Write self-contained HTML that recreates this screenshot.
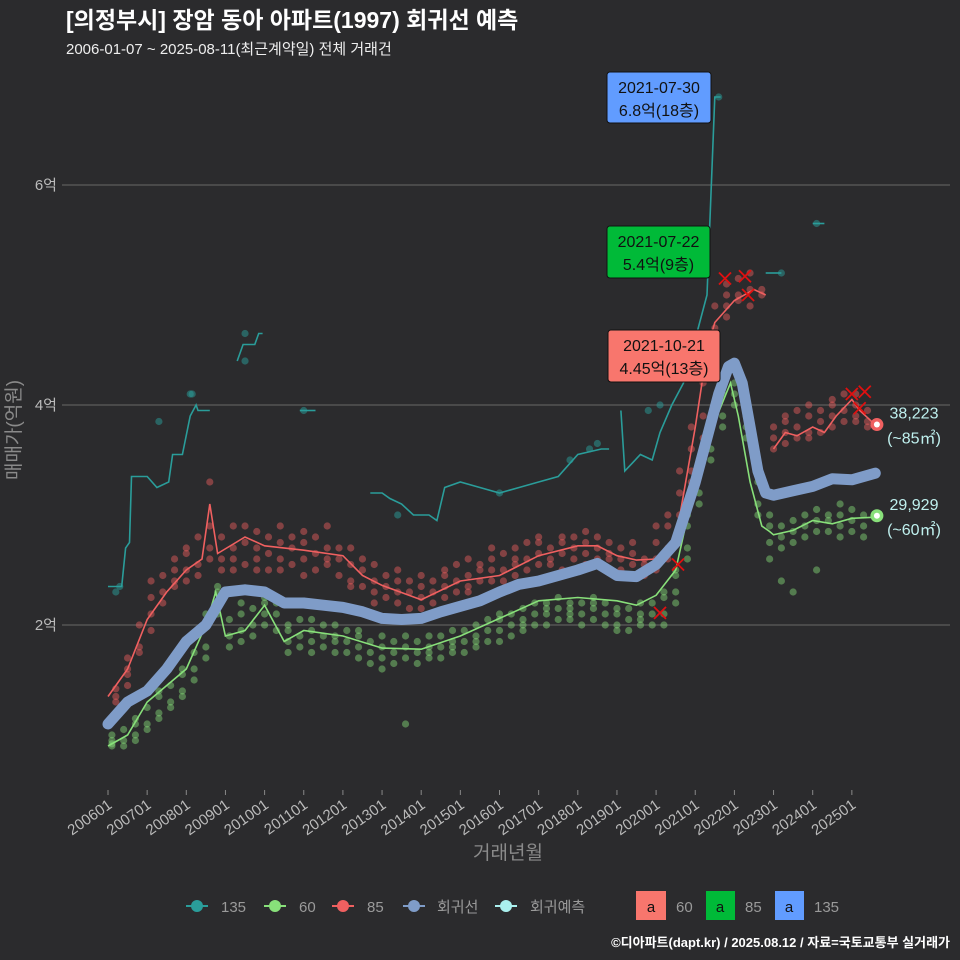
<!DOCTYPE html>
<html><head><meta charset="utf-8">
<style>
body{margin:0;background:#2b2b2d;}
svg{display:block;font-family:"Liberation Sans","Noto Sans CJK KR",sans-serif;}
</style></head>
<body>
<svg id="chart" width="960" height="960" xmlns="http://www.w3.org/2000/svg">
<rect width="960" height="960" fill="#2b2b2d"/>
<text x="66" y="28" fill="#ffffff" font-size="23" font-weight="bold">[의정부시] 장암 동아 아파트(1997) 회귀선 예측</text>
<text x="66" y="54" fill="#eeeeee" font-size="15">2006-01-07 ~ 2025-08-11(최근계약일) 전체 거래건</text>
<g id="grid"></g>
<g id="yticks"></g>
<g id="xticks"></g>
<g id="marks"></g>
<text x="20" y="430" fill="#8a8a8a" font-size="19" text-anchor="middle" transform="rotate(-90 20 430)">매매가(억원)</text>
<text x="508" y="859" fill="#8a8a8a" font-size="19" text-anchor="middle">거래년월</text>
<g font-size="15" fill="#9a9a9a">
 <g><line x1="186" y1="906" x2="208" y2="906" stroke="#2a9d9a" stroke-width="2"/><circle cx="197" cy="906" r="6" fill="#2a9d9a"/><text x="221" y="912">135</text></g>
 <g><line x1="264" y1="906" x2="286" y2="906" stroke="#88e07a" stroke-width="2"/><circle cx="275" cy="906" r="6" fill="#88e07a"/><text x="299" y="912">60</text></g>
 <g><line x1="332" y1="906" x2="354" y2="906" stroke="#f06060" stroke-width="2"/><circle cx="343" cy="906" r="6" fill="#f06060"/><text x="367" y="912">85</text></g>
 <g><line x1="403" y1="906" x2="425" y2="906" stroke="#7f9cc8" stroke-width="2"/><circle cx="414" cy="906" r="6" fill="#7f9cc8"/><text x="437" y="912">회귀선</text></g>
 <g><line x1="495" y1="906" x2="517" y2="906" stroke="#aaf0ee" stroke-width="2"/><circle cx="506" cy="906" r="6" fill="#aaf0ee"/><text x="530" y="912">회귀예측</text></g>
 <g><rect x="636" y="891" width="30" height="29" fill="#f8766d"/><text x="651" y="912" fill="#111" text-anchor="middle">a</text><text x="676" y="912">60</text></g>
 <g><rect x="706" y="891" width="29" height="29" fill="#00ba38"/><text x="720" y="912" fill="#111" text-anchor="middle">a</text><text x="745" y="912">85</text></g>
 <g><rect x="775" y="891" width="29" height="29" fill="#619cff"/><text x="789" y="912" fill="#111" text-anchor="middle">a</text><text x="814" y="912">135</text></g>
</g>
<text x="950" y="947" fill="#ffffff" font-size="13" font-weight="bold" text-anchor="end">©디아파트(dapt.kr) / 2025.08.12 / 자료=국토교통부 실거래가</text>
</svg>
<script>
const yTicks=[2,4,6];
const yLabels=["2억","4억","6억"];
const xTickYears=[2006,2007,2008,2009,2010,2011,2012,2013,2014,2015,2016,2017,2018,2019,2020,2021,2022,2023,2024,2025];
const xTickLabels=["200601","200701","200801","200901","201001","201101","201201","201301","201401","201501","201601","201701","201801","201901","202001","202101","202201","202301","202401","202501"];
const regT=[2006.0,2006.5,2007.0,2007.5,2008.0,2008.5,2009.0,2009.5,2010.0,2010.5,2011.0,2011.5,2012.0,2012.5,2013.0,2013.5,2014.0,2014.5,2015.0,2015.5,2016.0,2016.5,2017.0,2017.5,2018.0,2018.5,2019.0,2019.5,2020.0,2020.5,2021.0,2021.3,2021.6,2021.85,2022.0,2022.2,2022.4,2022.6,2022.8,2023.0,2023.5,2024.0,2024.5,2025.0,2025.6];
const regV=[1.1,1.3,1.4,1.6,1.85,2.0,2.3,2.32,2.3,2.2,2.2,2.18,2.16,2.12,2.06,2.05,2.06,2.12,2.17,2.22,2.3,2.37,2.4,2.45,2.5,2.56,2.45,2.44,2.55,2.75,3.3,3.7,4.1,4.35,4.38,4.2,3.8,3.4,3.2,3.18,3.22,3.26,3.33,3.32,3.38];
const l85T=[2006.0,2006.5,2007.0,2007.5,2008.0,2008.4,2008.6,2008.8,2009.5,2010.0,2011.0,2012.0,2012.5,2013.0,2014.0,2015.0,2016.0,2017.0,2018.0,2018.5,2019.0,2019.5,2020.0,2020.5,2021.0,2021.3,2021.5,2022.0,2022.5,2022.8];
const l85V=[1.35,1.6,2.05,2.3,2.5,2.6,3.1,2.65,2.8,2.72,2.68,2.63,2.45,2.36,2.23,2.4,2.45,2.63,2.72,2.72,2.63,2.59,2.6,2.78,3.8,4.5,4.75,4.95,5.05,5.0];
const l85bT=[2023.0,2023.3,2023.6,2024.0,2024.3,2024.6,2025.0,2025.2,2025.6];
const l85bV=[3.6,3.75,3.72,3.8,3.75,3.9,4.05,3.95,3.82];
const l60T=[2006.0,2006.5,2007.0,2007.5,2008.0,2008.5,2008.75,2009.0,2009.5,2010.0,2010.5,2011.0,2012.0,2013.0,2014.0,2015.0,2016.0,2017.0,2018.0,2019.0,2019.5,2020.0,2020.5,2021.0,2021.5,2021.9,2022.1,2022.4,2022.7,2022.9,2023.0,2023.5,2024.0,2024.5,2025.0,2025.6];
const l60V=[0.9,1.0,1.3,1.45,1.6,2.0,2.3,1.9,1.95,2.18,1.85,1.95,1.9,1.79,1.78,1.9,2.06,2.22,2.25,2.22,2.18,2.27,2.5,3.3,3.85,4.2,3.9,3.3,2.9,2.85,2.82,2.86,2.95,2.92,2.97,2.98];
const l135Segs=[
 [[2006.0,2.35],[2006.35,2.35],[2006.45,2.7],[2006.55,2.75],[2006.6,3.35],[2007.0,3.35],[2007.25,3.25],[2007.55,3.3],[2007.65,3.55],[2007.9,3.55],[2008.1,3.9],[2008.25,4.0],[2008.3,3.95],[2008.6,3.95]],
 [[2009.3,4.4],[2009.45,4.55],[2009.75,4.55],[2009.85,4.65],[2009.95,4.65]],
 [[2010.9,3.95],[2011.3,3.95]],
 [[2012.7,3.2],[2013.0,3.2],[2013.2,3.15],[2013.5,3.1],[2013.8,3.0],[2014.2,3.0],[2014.4,2.95],[2014.6,3.25],[2015.0,3.3],[2015.5,3.25],[2016.0,3.2],[2016.5,3.25],[2017.0,3.3],[2017.5,3.35],[2018.0,3.55],[2018.6,3.6],[2018.8,3.6]],
 [[2019.1,3.95],[2019.2,3.4],[2019.6,3.55],[2019.9,3.5],[2020.1,3.75],[2020.4,4.0],[2020.7,4.2],[2021.0,4.6],[2021.3,5.0],[2021.5,6.8],[2021.65,6.8]],
 [[2022.8,5.2],[2023.2,5.2]],
 [[2024.0,5.65],[2024.3,5.65]]];
const p135=[[2006.3,2.35],[2006.2,2.3],[2007.3,3.85],[2008.1,4.1],[2008.15,4.1],[2009.5,4.65],[2009.5,4.4],[2011.0,3.95],[2013.4,3.0],[2016.0,3.2],[2018.5,3.65],[2019.8,3.95],[2020.1,4.0],[2021.6,6.8],[2023.2,5.2],[2024.1,5.65],[2018.3,3.6],[2017.8,3.5]];
const p85={2006.2:[1.35,1.42,1.3],2006.5:[1.55,1.7,1.45,1.6],2006.8:[1.8,2.0,1.75],2007.1:[2.1,2.25,1.95,2.4],2007.4:[2.3,2.45,2.2],2007.7:[2.4,2.5,2.35,2.6],2008.0:[2.5,2.65,2.4,2.7],2008.3:[2.55,2.8,2.45],2008.6:[2.9,3.3,2.7,2.6],2008.9:[2.6,2.8,2.5],2009.2:[2.7,2.9,2.6,2.5],2009.5:[2.75,2.55,2.9],2009.8:[2.7,2.6,2.85,2.5],2010.1:[2.65,2.5,2.8],2010.4:[2.6,2.75,2.5,2.9],2010.7:[2.7,2.55,2.8],2011.0:[2.6,2.75,2.45,2.85],2011.3:[2.65,2.5,2.8],2011.6:[2.7,2.55,2.6,2.9],2011.9:[2.6,2.45,2.7],2012.2:[2.55,2.4,2.7,2.35],2012.5:[2.5,2.35,2.6],2012.8:[2.4,2.3,2.55,2.2],2013.1:[2.35,2.45,2.25],2013.4:[2.3,2.2,2.4,2.5],2013.7:[2.3,2.15,2.4],2014.0:[2.25,2.35,2.15,2.45],2014.3:[2.3,2.4,2.2],2014.6:[2.35,2.25,2.5,2.45],2014.9:[2.4,2.3,2.55],2015.2:[2.45,2.35,2.6,2.3],2015.5:[2.4,2.55,2.5],2015.8:[2.5,2.4,2.6,2.7],2016.1:[2.5,2.65,2.4],2016.4:[2.55,2.45,2.7,2.6],2016.7:[2.6,2.5,2.75],2017.0:[2.65,2.55,2.75,2.8],2017.3:[2.7,2.6,2.55],2017.6:[2.65,2.8,2.5,2.75],2017.9:[2.7,2.6,2.8],2018.2:[2.75,2.65,2.85,2.55],2018.5:[2.7,2.8,2.6],2018.8:[2.65,2.75,2.5,2.6],2019.1:[2.6,2.7,2.5],2019.4:[2.55,2.65,2.45,2.75],2019.7:[2.55,2.6,2.45],2020.0:[2.6,2.75,2.5,2.9],2020.3:[2.7,2.9,3.0,2.6],2020.6:[3.0,3.2,2.9,3.4],2020.9:[3.4,3.6,3.3,3.8],2021.2:[3.9,4.2,3.7,4.4],2021.5:[4.4,4.7,4.5,4.9],2021.8:[4.8,5.0,4.9,5.1],2022.1:[5.0,5.15,4.95],2022.4:[5.05,5.2,4.9],2022.7:[5.0,5.05],2023.0:[3.7,3.8,3.6],2023.3:[3.75,3.9,3.65,3.85],2023.6:[3.8,3.7,3.95],2023.9:[3.75,3.9,4.0,3.7],2024.2:[3.85,3.95,3.75],2024.5:[3.9,4.05,3.8,4.0],2024.8:[3.95,4.1,3.85],2025.1:[3.9,4.0,4.1,3.85],2025.4:[3.85,3.95,3.8]};
const p60={2006.1:[0.95,0.9,1.0,0.92],2006.4:[0.95,1.05,0.9],2006.7:[1.0,1.15,1.1,0.95],2007.0:[1.1,1.25,1.05],2007.3:[1.2,1.35,1.15,1.4],2007.6:[1.3,1.45,1.25],2007.9:[1.4,1.55,1.35,1.6],2008.2:[1.6,1.75,1.5],2008.5:[1.8,2.0,1.7,2.1],2008.8:[2.2,2.1,2.3,2.35],2009.1:[1.9,2.05,1.8],2009.4:[1.95,2.1,1.85,2.2],2009.7:[2.0,2.15,1.9],2010.0:[2.1,2.25,2.0,2.2],2010.3:[2.1,1.95,2.2],2010.6:[1.85,2.0,1.75,1.95],2010.9:[1.9,2.05,1.8],2011.2:[1.95,1.85,2.05,1.75],2011.5:[1.9,2.0,1.8],2011.8:[1.9,1.75,2.0,1.85],2012.1:[1.85,1.95,1.75],2012.4:[1.8,1.9,1.7,1.95],2012.7:[1.75,1.85,1.65],2013.0:[1.8,1.7,1.9,1.6],2013.3:[1.75,1.85,1.65],2013.6:[1.8,1.7,1.9,1.1],2013.9:[1.75,1.85,1.65],2014.2:[1.8,1.7,1.9,1.75],2014.5:[1.8,1.9,1.7],2014.8:[1.85,1.75,1.95,1.8],2015.1:[1.85,1.95,1.75],2015.4:[1.9,1.8,2.0,1.85],2015.7:[1.95,1.85,2.05],2016.0:[1.95,2.05,1.85,2.1],2016.3:[2.0,1.9,2.1],2016.6:[2.05,1.95,2.15,2.0],2016.9:[2.1,2.0,2.2],2017.2:[2.1,2.2,2.0,2.15],2017.5:[2.15,2.05,2.25],2017.8:[2.15,2.05,2.2,2.1],2018.1:[2.1,2.2,2.0],2018.4:[2.15,2.05,2.2,2.25],2018.7:[2.1,2.0,2.2],2019.0:[2.1,2.0,2.15,1.95],2019.3:[2.05,2.15,1.95],2019.6:[2.1,2.0,2.2,2.05],2019.9:[2.1,2.2,2.0],2020.2:[2.1,2.25,2.0,2.3],2020.5:[2.3,2.45,2.2,2.5],2020.8:[2.7,2.9,2.6,3.0],2021.1:[3.2,3.4,3.1,3.5],2021.4:[3.6,3.8,3.5,3.9],2021.7:[3.9,4.1,3.8],2022.0:[4.1,4.2,4.0],2022.3:[3.9,3.7,3.8],2022.6:[3.3,3.1,3.4,3.0],2022.9:[2.9,2.75,3.0,2.6],2023.2:[2.8,2.9,2.7,2.4],2023.5:[2.85,2.95,2.75,2.3],2023.8:[2.9,3.0,2.8],2024.1:[2.95,2.85,3.05,2.5],2024.4:[2.95,3.0,2.85],2024.7:[2.9,3.0,2.8,3.1],2025.0:[2.95,2.85,3.05],2025.3:[2.9,3.0,2.8]};
const xMarks=[[2020.1,2.11],[2020.56,2.55],[2021.76,5.15],[2022.27,5.17],[2022.35,5.0],[2025.0,4.1],[2025.33,4.12],[2025.2,3.97]];
const endT=2025.64;
const end85=3.8223, end60=2.9929;
const end85Label="38,223", end60Label="29,929";

const NS="http://www.w3.org/2000/svg";
const X=t=>108+(t-2006)*39.15;
const Y=v=>625-(v-2)*110;
function mk(tag,attrs,parent){const e=document.createElementNS(NS,tag);for(const k in attrs)e.setAttribute(k,attrs[k]);parent.appendChild(e);return e;}
const grid=document.getElementById('grid'),yt=document.getElementById('yticks'),xt=document.getElementById('xticks'),m=document.getElementById('marks');
yTicks.forEach((v,i)=>{
 const l=mk('line',{x1:62,x2:950,y1:Y(v),y2:Y(v),stroke:'#5c5c5c','stroke-width':1.2},grid);
 
 
 const t=mk('text',{x:57,y:Y(v)+5,fill:'#bbbbbb','font-size':15,'text-anchor':'end'},yt);
 t.textContent=yLabels[i];
 
 
});
xTickYears.forEach((yr,i)=>{
 const x=X(yr);
 const l=mk('line',{x1:x,x2:x,y1:790,y2:795,stroke:'#888'},xt);
 
 
 const t=mk('text',{x:x+5,y:807,fill:'#bbbbbb','font-size':15,'text-anchor':'end',transform:`rotate(-35 ${x+5} 807)`},xt);
 t.textContent=xTickLabels[i];
 
 
});
function path(T,V){return T.map((t,i)=>(i?'L':'M')+X(t).toFixed(1)+','+Y(V[i]).toFixed(1)).join('');}
function dots(obj,col,name){
 for(const k in obj){obj[k].forEach(v=>{
  const c=mk('circle',{cx:X(+k),cy:Y(v),r:3.6,fill:col,'fill-opacity':0.45},m);
  
  
 });}
}
dots(p85,'#f06060','point-85');
dots(p60,'#88e07a','point-60');
p135.forEach(p=>{
 const c=mk('circle',{cx:X(p[0]),cy:Y(p[1]),r:3.6,fill:'#2a9d9a','fill-opacity':0.5},m);
 
 
});
l135Segs.forEach(s=>{
 const p=mk('path',{d:path(s.map(a=>a[0]),s.map(a=>a[1])),fill:'none',stroke:'#2a9d9a','stroke-width':1.6},m);
 
 
});
let p1=mk('path',{d:path(l85T,l85V),fill:'none',stroke:'#f06060','stroke-width':1.6},m);


let p2=mk('path',{d:path(l85bT,l85bV),fill:'none',stroke:'#f06060','stroke-width':1.6},m);


let p3=mk('path',{d:path(l60T,l60V),fill:'none',stroke:'#88e07a','stroke-width':1.6},m);


xMarks.forEach(p=>{
 const x=X(p[0]),y=Y(p[1]);
 const g=mk('path',{d:`M${x-6},${y-6}L${x+6},${y+6}M${x-6},${y+6}L${x+6},${y-6}`,stroke:'#e01010','stroke-width':1.8},m);
 
 
});
let rg=mk('path',{d:path(regT,regV),fill:'none',stroke:'#7f9cc8','stroke-width':11,'stroke-linecap':'round','stroke-linejoin':'round'},m);


[[end85,'#f06060',end85Label,'(~85㎡)','end-point-85'],[end60,'#88e07a',end60Label,'(~60㎡)','end-point-60']].forEach(e=>{
 const x=X(endT),y=Y(e[0]);
 const c=mk('circle',{cx:x,cy:y,r:6.5,fill:e[1]},m);
 
 
 mk('circle',{cx:x,cy:y,r:3,fill:'#ffffff'},m);
 const t1=mk('text',{x:914,y:y-6,fill:'#bff0ee','font-size':16,'text-anchor':'middle'},m);
 t1.textContent=e[2];
 
 
 const t2=mk('text',{x:914,y:y+19,fill:'#bff0ee','font-size':16,'text-anchor':'middle'},m);
 t2.textContent=e[3];
 
 
});
[[607,72,104,51,'#619cff','2021-07-30','6.8억(18층)','annotation-135'],[607,226,103,52,'#00ba38','2021-07-22','5.4억(9층)','annotation-85'],[608,330,112,52,'#f8766d','2021-10-21','4.45억(13층)','annotation-60']].forEach(a=>{
 const g=mk('g',{},m);
 
 
 mk('rect',{x:a[0],y:a[1],width:a[2],height:a[3],rx:3,fill:a[4],stroke:'#111','stroke-width':1},g);
 const cx=a[0]+a[2]/2;
 const t1=mk('text',{x:cx,y:a[1]+21,'font-size':16,fill:'#111','text-anchor':'middle'},g);t1.textContent=a[5];
 const t2=mk('text',{x:cx,y:a[1]+44,'font-size':16,fill:'#111','text-anchor':'middle'},g);t2.textContent=a[6];
});
</script>
</body></html>
